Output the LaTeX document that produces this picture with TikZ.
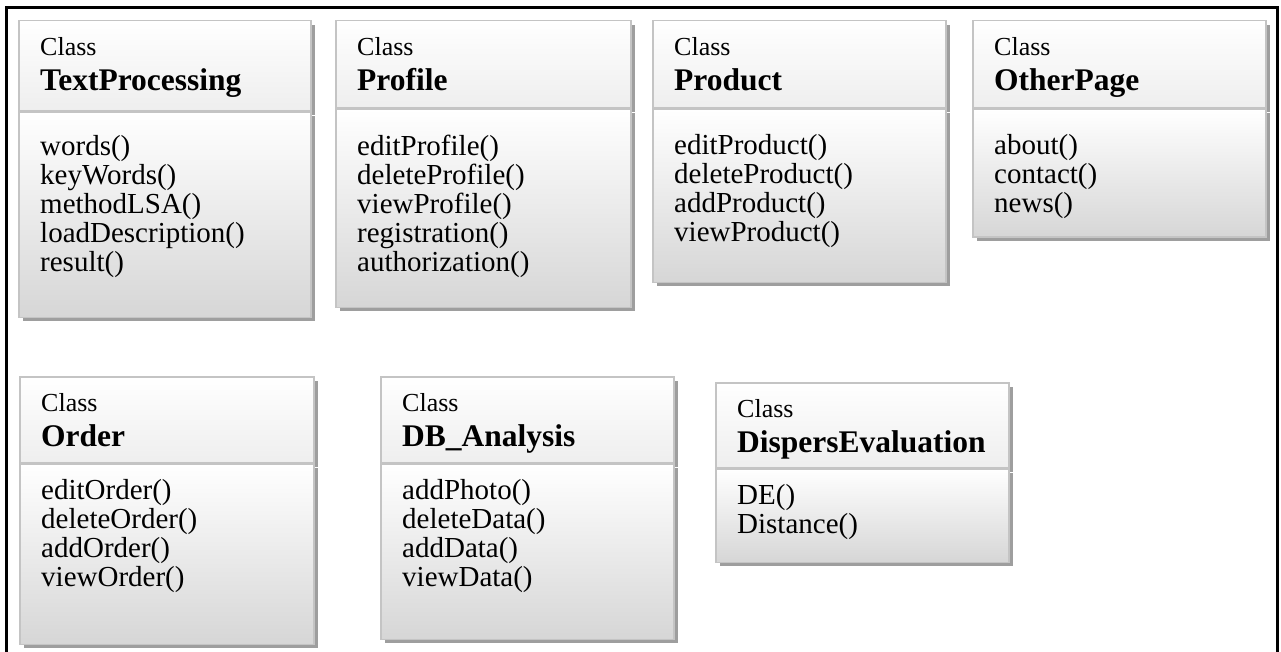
\documentclass[tikz,border=0pt]{standalone}
\usepackage{fontspec}
\setmainfont{Liberation Serif}
\usepackage{tikz}
\usetikzlibrary{positioning,shadows}
\usepackage{xcolor}
\definecolor{umlborder}{RGB}{196,196,196}
\definecolor{umlshadow}{RGB}{158,158,158}
\definecolor{umlmid}{RGB}{238,238,238}
\definecolor{umlbottom}{RGB}{214,214,214}
\tikzstyle{classhead} = [rectangle, anchor=north west, inner sep=0pt, draw=umlborder, line width=1.5pt, top color=white, bottom color=umlmid, drop shadow={shadow xshift=4pt, shadow yshift=-4pt, fill=umlshadow, opacity=1}]
\tikzstyle{classbody} = [rectangle, inner sep=0pt, draw=umlborder, line width=1.5pt, top color=white, bottom color=umlbottom, drop shadow={shadow xshift=4pt, shadow yshift=-4pt, fill=umlshadow, opacity=1}]
\tikzstyle{classtitle} = [anchor=north west, inner sep=0pt, align=left, font=\fontsize{26}{35}\selectfont]
\tikzstyle{classops} = [anchor=north west, inner sep=0pt, align=left, font=\fontsize{29}{29}\selectfont]
\newcommand{\cname}[1]{{\fontsize{31.5}{35}\selectfont\bfseries #1}}

\begin{document}
\begin{tikzpicture}[x=1pt, y=-1pt]
\useasboundingbox (0,0) rectangle (1281,652);
% Frame
\coordinate (f-bl) at (6,652);
\coordinate (f-tl) at (6,8);
\coordinate (f-tr) at (1277,8);
\coordinate (f-br) at (1277,652);
\draw[line width=3pt] (f-bl) -- (f-tl) -- (f-tr) -- (f-br);

% Top row
\node (tp-head) [classhead, minimum width=292pt, minimum height=90pt] at (18,20) {};
\node (tp-body) [classbody, minimum width=292pt, minimum height=205pt, below=0pt of tp-head] {};
\node (tp-title) [classtitle] at ([shift={(22,17)}]tp-head.north west) {Class\\\cname{TextProcessing}};
\node (tp-ops) [classops] at ([shift={(22,24)}]tp-body.north west) {words()\\keyWords()\\methodLSA()\\loadDescription()\\result()};

\node (pr-head) [classhead, minimum width=295pt, minimum height=87pt] at (335,20) {};
\node (pr-body) [classbody, minimum width=295pt, minimum height=198pt, below=0pt of pr-head] {};
\node (pr-title) [classtitle] at ([shift={(22,17)}]pr-head.north west) {Class\\\cname{Profile}};
\node (pr-ops) [classops] at ([shift={(22,26)}]pr-body.north west) {editProfile()\\deleteProfile()\\viewProfile()\\registration()\\authorization()};

\node (pd-head) [classhead, minimum width=293pt, minimum height=87pt] at (652,20) {};
\node (pd-body) [classbody, minimum width=293pt, minimum height=173pt, below=0pt of pd-head] {};
\node (pd-title) [classtitle] at ([shift={(22,17)}]pd-head.north west) {Class\\\cname{Product}};
\node (pd-ops) [classops] at ([shift={(22,26)}]pd-body.north west) {editProduct()\\deleteProduct()\\addProduct()\\viewProduct()};

\node (op-head) [classhead, minimum width=293pt, minimum height=87pt] at (972,20) {};
\node (op-body) [classbody, minimum width=293pt, minimum height=128pt, below=0pt of op-head] {};
\node (op-title) [classtitle] at ([shift={(22,17)}]op-head.north west) {Class\\\cname{OtherPage}};
\node (op-ops) [classops] at ([shift={(22,26)}]op-body.north west) {about()\\contact()\\news()};

% Bottom row
\node (or-head) [classhead, minimum width=294pt, minimum height=86pt] at (19,376) {};
\node (or-body) [classbody, minimum width=294pt, minimum height=180pt, below=0pt of or-head] {};
\node (or-title) [classtitle] at ([shift={(22,17)}]or-head.north west) {Class\\\cname{Order}};
\node (or-ops) [classops] at ([shift={(22,16)}]or-body.north west) {editOrder()\\deleteOrder()\\addOrder()\\viewOrder()};

\node (db-head) [classhead, minimum width=293pt, minimum height=86pt] at (380,376) {};
\node (db-body) [classbody, minimum width=293pt, minimum height=175pt, below=0pt of db-head] {};
\node (db-title) [classtitle] at ([shift={(22,17)}]db-head.north west) {Class\\\cname{DB\_Analysis}};
\node (db-ops) [classops] at ([shift={(22,16)}]db-body.north west) {addPhoto()\\deleteData()\\addData()\\viewData()};

\node (de-head) [classhead, minimum width=293pt, minimum height=85pt] at (715,382) {};
\node (de-body) [classbody, minimum width=293pt, minimum height=93pt, below=0pt of de-head] {};
\node (de-title) [classtitle] at ([shift={(22,17)}]de-head.north west) {Class\\\cname{DispersEvaluation}};
\node (de-ops) [classops] at ([shift={(22,16)}]de-body.north west) {DE()\\Distance()};
\end{tikzpicture}
\end{document}
